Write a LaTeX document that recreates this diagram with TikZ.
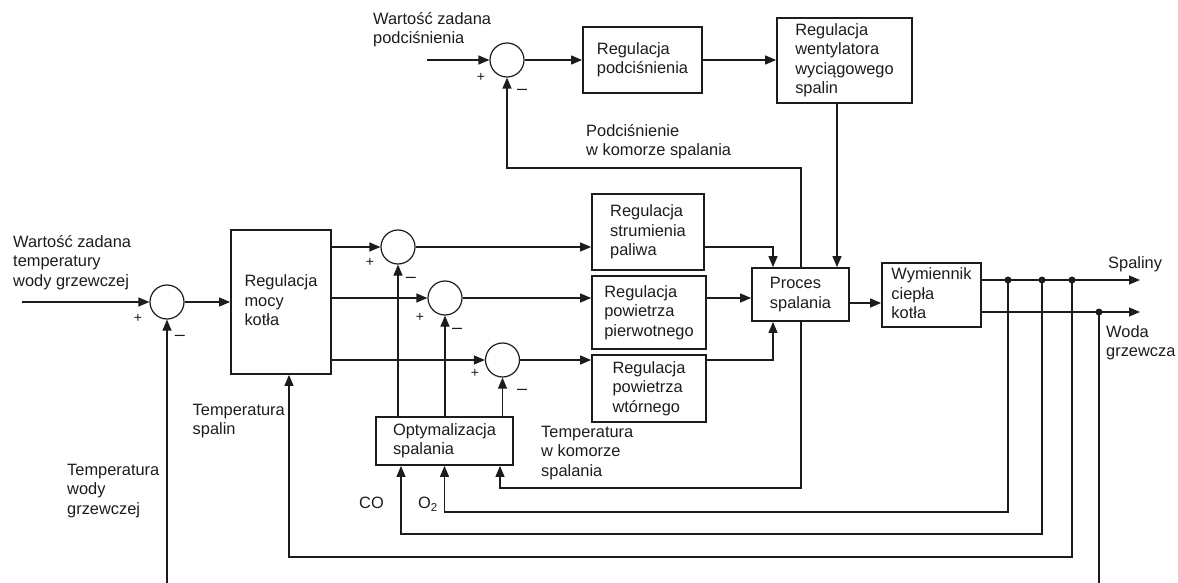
\documentclass[tikz,border=0pt]{standalone}
\usepackage{fontspec}
\setmainfont{Liberation Sans}
\usetikzlibrary{arrows.meta}
\definecolor{ink}{HTML}{1C1C1C}
% struts that give every text block the same top and bottom
\newcommand\topstrut{\rule{0pt}{15.75pt}}
\newcommand\botstrut{\rule[-3.75pt]{0pt}{3.75pt}}
\tikzset{
  txt/.style={inner sep=0pt, align=left, text=ink,
    font=\fontsize{16.4pt}{19.5pt}\selectfont,
    execute at begin node=\topstrut, execute at end node=\botstrut},
  blk/.style={txt, rectangle, draw=ink, line width=1.8pt},
  lbl/.style={txt, anchor=north west},
  sum/.style={circle, draw=ink, line width=1.2pt, minimum size=34pt, inner sep=0pt},
  dot/.style={circle, fill=ink, minimum size=7pt, inner sep=0pt},
  sgn/.style={inner sep=0pt, text=ink, font=\fontsize{14pt}{16pt}\selectfont},
  neg/.style={inner sep=0pt, text=ink, font=\fontsize{18pt}{20pt}\selectfont},
  wire/.style={draw=ink, line width=1.2pt},
  arr/.style={wire, -{Triangle[length=11pt,width=9pt]}}
}
\begin{document}
\begin{tikzpicture}[x=1pt,y=-1pt]
\useasboundingbox (0,0) rectangle (1178,583);

% controller and process blocks
\node[blk, minimum width=119pt, minimum height=66pt]  (podc) at (642.5,60)   {Regulacja\\podciśnienia};
\node[blk, minimum width=135pt, minimum height=85pt]  (went) at (844.5,60.5) {Regulacja\\wentylatora\\wyciągowego\\spalin};
\node[blk, minimum width=100pt, minimum height=144pt] (mocy) at (281,302)    {Regulacja\\mocy\\kotła};
\node[blk, minimum width=112pt, minimum height=76pt]  (fuel) at (648,232)    {Regulacja\\strumienia\\paliwa};
\node[blk, minimum width=114pt, minimum height=73pt]  (prim) at (649,312.5)  {Regulacja\\powietrza\\pierwotnego};
\node[blk, minimum width=114pt, minimum height=67pt]  (sec)  at (649,388.5)  {Regulacja\\powietrza\\wtórnego};
\node[blk, minimum width=97pt,  minimum height=53pt]  (proc) at (800.5,294.5){Proces\\spalania};
\node[blk, minimum width=99pt,  minimum height=64pt]  (wym)  at (931.5,295)  {Wymiennik\\ciepła\\kotła};
\node[blk, minimum width=137pt, minimum height=48pt]  (opt)  at (444.5,441)  {Optymalizacja\\spalania};

% summing junctions
\node[sum] (s0) at (507,60) {};
\node[sum] (s1) at (167,302) {};
\node[sum] (sA) at (398,247) {};
\node[sum] (sB) at (445,298) {};
\node[sum] (sC) at (502.5,360) {};

% signs at the junctions
\node[sgn] (p0) at (481,77)  {+};  \node[neg] (m0) at (522,92)  {\textendash};
\node[sgn] (p1) at (138,318) {+};  \node[neg] (m1) at (180,338) {\textendash};
\node[sgn] (pA) at (370,262) {+};  \node[neg] (mA) at (411,280) {\textendash};
\node[sgn] (pB) at (420,317) {+};  \node[neg] (mB) at (457,331) {\textendash};
\node[sgn] (pC) at (475,373) {+};  \node[neg] (mC) at (522,392) {\textendash};

% signal labels
\node[lbl] (lPset) at (373,12)    {Wartość zadana\\podciśnienia};
\node[lbl] (lPfb)  at (586,124)   {Podciśnienie\\w komorze spalania};
\node[lbl] (lTset) at (13,235)    {Wartość zadana\\temperatury\\wody grzewczej};
\node[lbl] (lSp)   at (1108,253)  {Spaliny};
\node[lbl] (lWg)   at (1106,325)  {Woda\\grzewcza};
\node[lbl] (lTs)   at (192.5,404) {Temperatura\\spalin};
\node[lbl] (lTw)   at (67,464)    {Temperatura\\wody\\grzewczej};
\node[lbl] (lTk)   at (541,426)   {Temperatura\\w komorze\\spalania};
\node[lbl] (lCO)   at (359,493)   {CO};
\node[lbl] (lO2)   at (418,493)   {O\textsubscript{2}};

% branch points on the outlet lines
\node[dot] (d1) at (1008,280) {};
\node[dot] (d2) at (1042,280) {};
\node[dot] (d3) at (1072,280) {};
\node[dot] (d4) at (1099,312) {};

% free ends and routing points
\coordinate (inP)  at (427,60);
\coordinate (inT)  at (22,302);
\coordinate (outS) at (1140,280);
\coordinate (outW) at (1140,312);
\coordinate (xf)   at (801,168);
\coordinate (tk)   at (801,488);
\coordinate (xw)   at (837,0);
\coordinate (xr)   at (773,0);
\coordinate (wy)   at (0,303);
\coordinate (bot)  at (0,583);

% draught loop
\draw[arr] (inP) -- (s0.west);
\draw[arr] (s0.east) -- (podc.west);
\draw[arr] (podc.east) -- (podc.east -| went.west);
\draw[arr] (went.south -| xw) -- (proc.north -| xw);
\draw[arr] (proc.north -| xf) -- (xf) -| (s0.south);

% boiler power loop
\draw[arr] (inT) -- (s1.west);
\draw[arr] (s1.east) -- (s1.east -| mocy.west);
\draw[arr] (mocy.east |- sA) -- (sA.west);
\draw[arr] (mocy.east |- sB) -- (sB.west);
\draw[arr] (mocy.east |- sC) -- (sC.west);
\draw[arr] (sA.east) -- (sA.east -| fuel.west);
\draw[arr] (sB.east) -- (sB.east -| prim.west);
\draw[arr] (sC.east) -- (sC.east -| sec.west);
\draw[arr] (fuel.east |- sA) -| (proc.north -| xr);
\draw[arr] (prim.east |- sB) -- (proc.west |- sB);
\draw[arr] (sec.east |- sC) -| (proc.south -| xr);
\draw[arr] (proc.east |- wy) -- (wym.west |- wy);
\draw[arr] (wym.east |- outS) -- (outS);
\draw[arr] (wym.east |- outW) -- (outW);

% combustion optimisation corrections
\draw[arr] (opt.north -| sA) -- (sA.south);
\draw[arr] (opt.north -| sB) -- (sB.south);
\draw[arr] (opt.north -| sC) -- (sC.south);

% measurements fed back
\draw[arr] (proc.south -| tk) -- (tk) -| ([xshift=55.5pt]opt.south);
\draw[arr] (d1.center) -- (d1 |- 0,512) -| (opt.south);
\draw[arr] (d2.center) -- (d2 |- 0,534) -| ([xshift=-43.5pt]opt.south);
\draw[arr] (d3.center) -- (d3 |- 0,557) -| ([xshift=8pt]mocy.south);
\draw[wire] (d4.center) -- (d4 |- bot);
\draw[arr] (s1 |- bot) -- (s1.south);
\end{tikzpicture}
\end{document}
